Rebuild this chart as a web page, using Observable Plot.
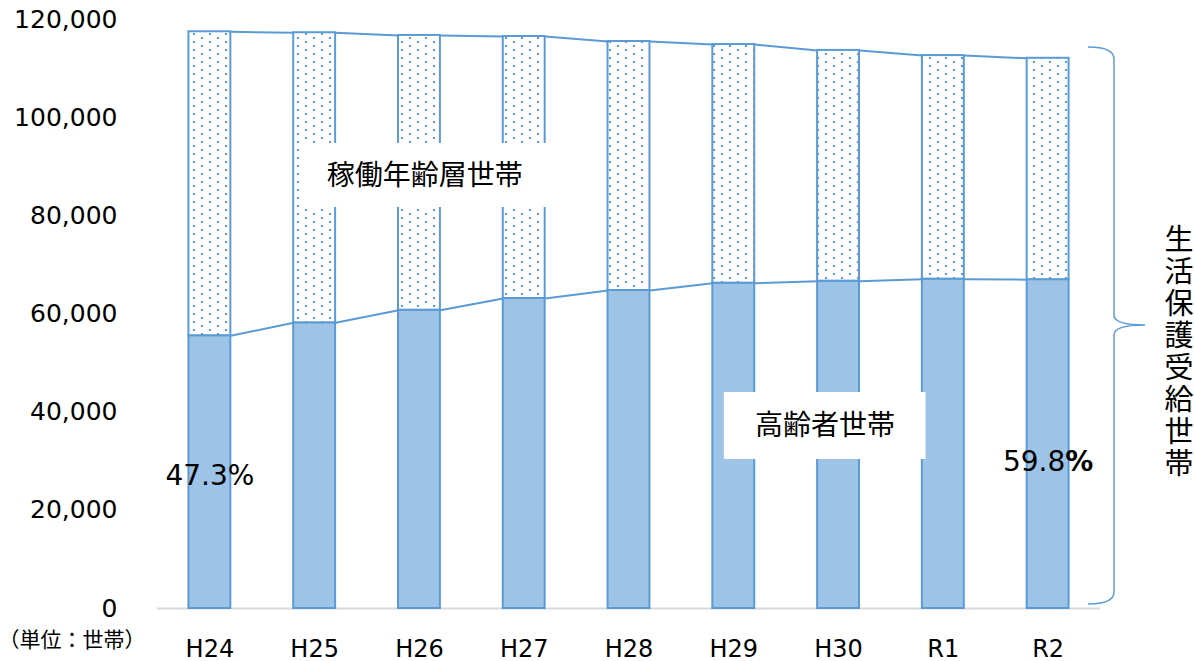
<!DOCTYPE html>
<html>
<head>
<meta charset="utf-8">
<script src="https://cdn.jsdelivr.net/npm/d3@7"></script>
<script src="https://cdn.jsdelivr.net/npm/@observablehq/plot@0.6"></script>
<style>
  html, body { margin: 0; padding: 0; background: #fff; }
  #chart { position: relative; width: 1194px; height: 661px; }
  #chart svg { display: block; }
  #vlabel {
    position: absolute; left: 1164px; top: 224px; width: 30px;
    writing-mode: vertical-rl; font-family: 'Noto Sans CJK JP', sans-serif;
    font-size: 29px; line-height: 30px; letter-spacing: 3px; color: #000;
    white-space: nowrap;
  }
</style>
</head>
<body>
<div id="chart"><div id="vlabel"></div></div>
<script>
// ---- data ----
const categories = ["H24", "H25", "H26", "H27", "H28", "H29", "H30", "R1", "R2"];
const elderly = [55580, 58210, 60780, 63160, 64790, 66280, 66690, 67100, 67000]; // 高齢者世帯
const total   = [117500, 117300, 116750, 116540, 115520, 114900, 113700, 112650, 112100]; // 生活保護受給世帯
const yTicks  = [0, 20000, 40000, 60000, 80000, 100000, 120000];
const seriesLabels = ["高齢者世帯", "稼働年齢層世帯"];
const braceLabel = "生活保護受給世帯";
const unitLabel = "（単位：世帯）";

// ---- derived tables ----
const rows = categories.map((c, i) => ({ i, c, elderly: elderly[i], total: total[i] }));
const links = [];
for (let i = 0; i < rows.length - 1; i++) {
  links.push({ i, a: elderly[i], b: elderly[i + 1] });
  links.push({ i, a: total[i], b: total[i + 1] });
}
const half = 0.2;
const pct = i => (elderly[i] / total[i] * 100).toFixed(1) + "%";
const last = rows.length - 1;

const blue = "#5B9BD5";
const fillBlue = "#9DC3E6";
const font = "'DejaVu Sans','Noto Sans CJK JP',sans-serif";

const chart = Plot.plot({
  width: 1194,
  height: 661,
  marginTop: 19,
  marginBottom: 53,
  marginLeft: 157,
  marginRight: 94,
  style: { fontFamily: font, background: "#fff", color: "#000", overflow: "visible" },
  x: { type: "linear", domain: [-0.5, categories.length - 0.5], axis: null },
  y: { domain: [0, 120000], axis: null },
  marks: [
    Plot.ruleY([0], { stroke: "#D9D9D9", strokeWidth: 2 }),
    Plot.rect(rows, {
      x1: d => d.i - half, x2: d => d.i + half, y1: 0, y2: "elderly",
      fill: fillBlue, stroke: blue, strokeWidth: 2
    }),
    Plot.rect(rows, {
      x1: d => d.i - half, x2: d => d.i + half, y1: "elderly", y2: "total",
      fill: "url(#dots)", stroke: blue, strokeWidth: 2
    }),
    Plot.link(links, {
      x1: d => d.i + half, x2: d => d.i + 1 - half, y1: "a", y2: "b",
      stroke: blue, strokeWidth: 2
    }),
    Plot.axisY({
      ticks: yTicks, tickSize: 0, tickPadding: 40, fontSize: 25,
      tickFormat: d3.format(","), fill: "#000"
    }),
    Plot.axisX({
      ticks: rows.map(d => d.i), tickFormat: i => categories[i],
      tickSize: 0, tickPadding: 31, fontSize: 24, fill: "#000"
    }),
    // label boxes
    Plot.rect([0], { x1: 0.867, x2: 3.23, y1: 81700, y2: 94740, fill: "#fff" }),
    Plot.rect([0], { x1: 4.91, x2: 6.835, y1: 30360, y2: 44010, fill: "#fff" }),
    Plot.text([seriesLabels[1]], { x: 2.05, y: 88200, text: d => d, fontSize: 28, fill: "#000" }),
    Plot.text([seriesLabels[0]], { x: 5.87, y: 37150, text: d => d, fontSize: 28, fill: "#000" }),
    // percentages
    Plot.text([0], { x: 0, y: 26900, text: i => pct(i), fontSize: 28, fill: "#000" }),
    Plot.text([last], { x: last, y: 29750, text: i => pct(i), fontSize: 28, fill: "#000" })
  ]
});

const svg = d3.select(chart);
svg.insert("defs", ":first-child").html(
  `<pattern id="dots" patternUnits="userSpaceOnUse" width="16" height="8">
     <rect width="16" height="8" fill="#fff"/>
     <rect x="1" y="1" width="2" height="2" fill="${blue}"/>
     <rect x="9" y="5" width="2" height="2" fill="${blue}"/>
   </pattern>`
);

// bold "%" on the last percentage
svg.selectAll("text").filter(function () { return this.textContent === pct(last); })
  .each(function () {
    const t = d3.select(this);
    const s = pct(last);
    t.text(null);
    t.append("tspan").text(s.slice(0, -1));
    t.append("tspan").attr("font-weight", "bold").text("%");
  });

// brace on the right
const y = chart.scale("y");
const yTop = y.apply(114300), yMid = y.apply(57660), yBot = y.apply(800);
const xa = 1088, xb = 1114, xt = 1145;
svg.append("path")
  .attr("fill", "none").attr("stroke", blue).attr("stroke-width", 1.5)
  .attr("d",
    `M${xa},${yTop} Q${xb},${yTop} ${xb},${yTop + 12} L${xb},${yMid - 10} Q${xb},${yMid} ${xt},${yMid}` +
    ` Q${xb},${yMid} ${xb},${yMid + 10} L${xb},${yBot - 12} Q${xb},${yBot} ${xa},${yBot}`);

// unit caption
svg.append("text")
  .attr("x", 72).attr("y", 640).attr("dy", "0.35em")
  .attr("text-anchor", "middle").attr("font-size", 21).attr("font-family", font)
  .attr("fill", "#000")
  .text(unitLabel);

const host = document.getElementById("chart");
host.insertBefore(chart, host.firstChild);
document.getElementById("vlabel").textContent = braceLabel;
</script>
</body>
</html>
